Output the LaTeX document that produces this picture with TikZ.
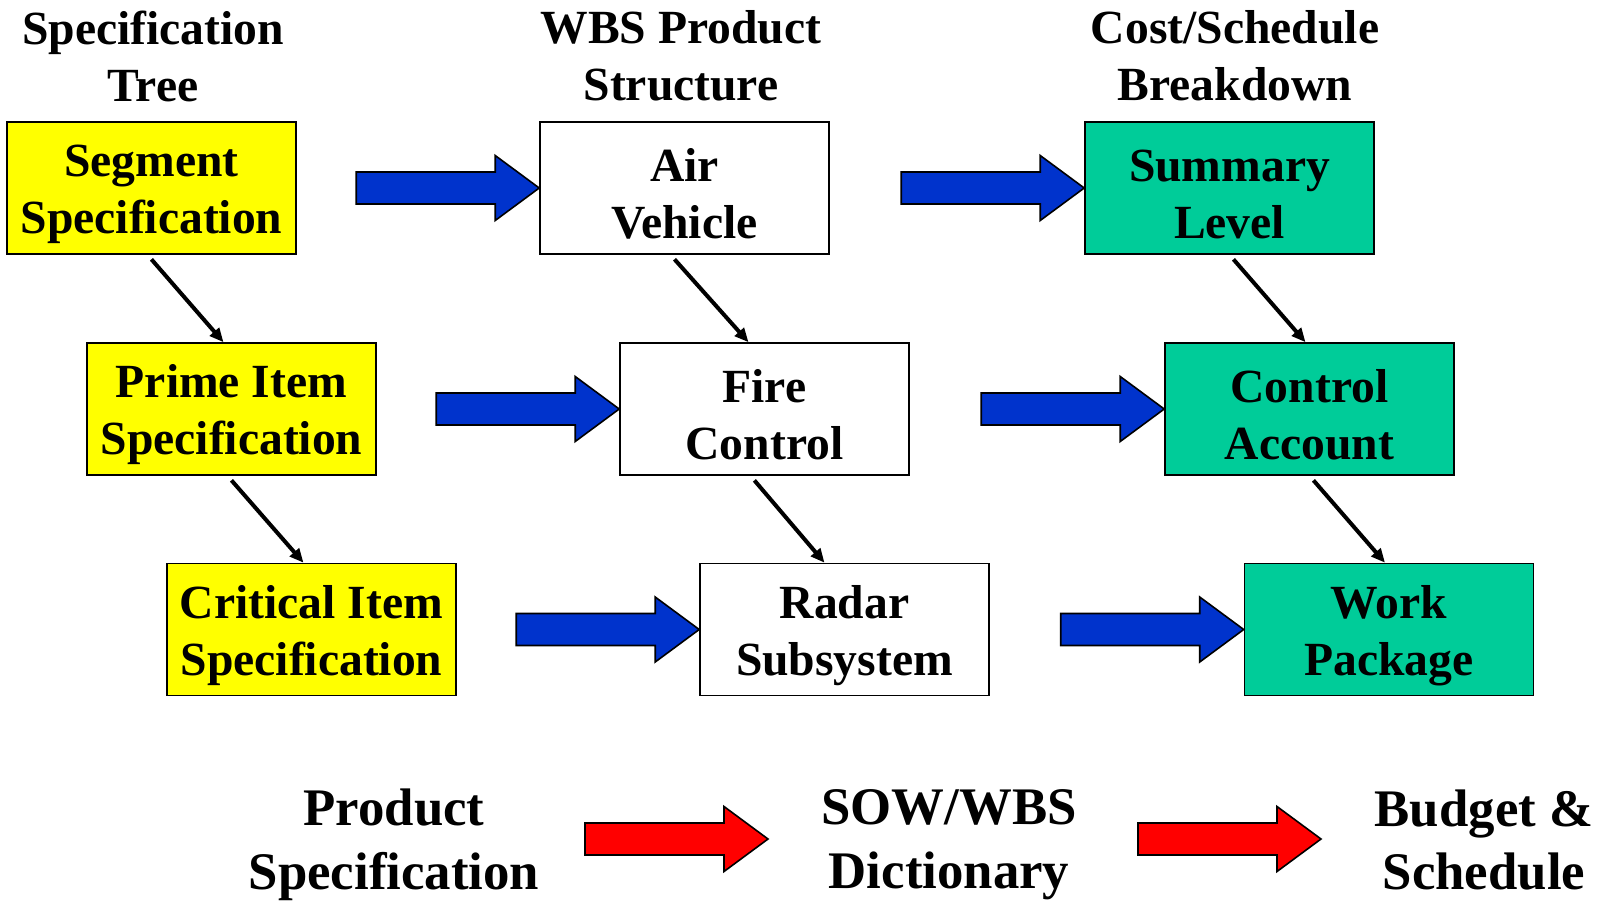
\documentclass[tikz,border=0pt]{standalone}
\usepackage{fontspec}
\setmainfont{Liberation Serif}
\usetikzlibrary{calc,arrows.meta}

\definecolor{specyellow}{HTML}{FFFF00}
\definecolor{costgreen}{HTML}{00CC99}
\definecolor{flowblue}{HTML}{0033CC}
\definecolor{flowred}{HTML}{FF0000}

\tikzset{
  box/.style={draw, line width=0.8pt, minimum width=144.5pt, minimum height=66pt,
    inner sep=0pt, align=center, execute at begin node={\rule{0pt}{51pt}},
    font=\fontsize{23.8}{28.5}\selectfont\bfseries},
  spec/.style={box, fill=specyellow},
  wbs/.style={box, fill=white},
  cost/.style={box, fill=costgreen},
  head/.style={align=center, font=\fontsize{23.8}{28.5}\selectfont\bfseries},
  foot/.style={align=center, font=\fontsize{26.4}{31.8}\selectfont\bfseries},
  fatarrow/.style={draw=black, line width=0.8pt, line join=miter},
  link/.style={>={Triangle[length=7pt,width=6pt]}, ->, line width=2pt, shorten <=3pt},
}

% block arrow ending at the given point
\newcommand{\fatarrow}[2]{%
  \draw[fatarrow, fill=#1] (#2) -- ++(-44,-32.5) -- ++(0,16.5) -- ++(-139,0)
    -- ++(0,32) -- ++(139,0) -- ++(0,16.5) -- cycle;}

\begin{document}
\begin{tikzpicture}[x=0.5pt, y=-0.5pt]
\useasboundingbox (0,0) rectangle (1606,900);

% column headings
\node[head] (h1) at (153,56) {Specification\\Tree};
\node[head] (h2) at (681,56) {WBS Product\\Structure};
\node[head] (h3) at (1235,56) {Cost/Schedule\\Breakdown};

% specification tree
\node[spec] (seg) at (151.5,188) {Segment\\Specification};
\node[spec] (prime) at (231.5,409) {Prime Item\\Specification};
\node[spec] (crit) at (311.5,629.5) {Critical Item\\Specification};

% product structure
\node[wbs] (air) at (684.5,188) {Air\\Vehicle};
\node[wbs] (fire) at (764.5,409) {Fire\\Control};
\node[wbs] (radar) at (844.5,629.5) {Radar\\Subsystem};

% cost/schedule
\node[cost] (summ) at (1229.5,188) {Summary\\Level};
\node[cost] (ctrl) at (1309.5,409) {Control\\Account};
\node[cost] (work) at (1389,629.5) {Work\\Package};

% tree links
\draw [link] ([xshift=-2]seg.south) -- ([xshift=-4]prime.north);
\draw [link] ([xshift=-2]prime.south) -- ([xshift=-4]crit.north);
\draw [link] ([xshift=-7]air.south) -- ([xshift=-8]fire.north);
\draw [link] ([xshift=-7]fire.south) -- ([xshift=-10]radar.north);
\draw [link] (summ.south) -- ([xshift=-2]ctrl.north);
\draw [link] (ctrl.south) -- ([xshift=-2]work.north);

% blue arrows
\fatarrow{flowblue}{air.west}
\fatarrow{flowblue}{fire.west}
\fatarrow{flowblue}{radar.west}
\fatarrow{flowblue}{summ.west}
\fatarrow{flowblue}{ctrl.west}
\fatarrow{flowblue}{work.west}

% bottom row
\node[foot] (prod) at (394,845) {Product\\Specification};
\node[foot] (sow) at (949,845) {SOW/WBS\\Dictionary};
\node[foot] (budget) at (1484,840) {Budget \&\\Schedule};
\coordinate (r1) at (768,839);
\coordinate (r2) at (1321,839);
\fatarrow{flowred}{r1}
\fatarrow{flowred}{r2}
\end{tikzpicture}
\end{document}
